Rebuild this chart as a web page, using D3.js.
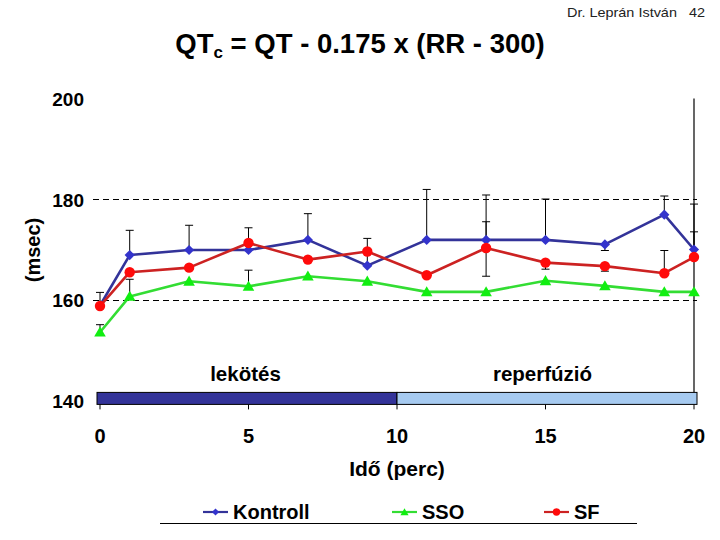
<!DOCTYPE html>
<html><head><meta charset="utf-8">
<script src="https://cdn.jsdelivr.net/npm/d3@7"></script>
<style>body{margin:0;background:#fff}svg{display:block}</style>
</head><body><svg id="c" width="720" height="540"></svg>
<script>
// ---- data ----
const times = [0, 1, 3, 5, 7, 9, 11, 13, 15, 17, 19, 20];
const kontroll = [159.0, 169.0, 170.0, 170.0, 172.0, 166.9, 172.0, 172.0, 172.0, 171.1, 177.0, 170.1];
const sso      = [153.7, 160.8, 163.8, 162.8, 164.8, 163.8, 161.7, 161.7, 163.9, 162.9, 161.7, 161.7];
const sf       = [158.9, 165.6, 166.5, 171.4, 168.1, 169.7, 165.0, 170.4, 167.5, 166.8, 165.4, 168.6];
// error bar ends (null = no bar visible)
const kontrollErrHi = [161.6, 173.9, 174.9, null, 177.2, 172.3, 182.0, 180.9, 180.1, null, 180.7, 179.1];
const kontrollErrLo = [null, null, null, null, null, null, null, null, null, 169.9, null, null];
const ssoErrHi      = [155.2, 164.2, null, 166.0, null, null, null, null, null, null, null, null];
const sfErrHi       = [null, null, null, 174.4, null, null, null, 175.6, null, null, 169.9, 173.6];
const sfErrLo       = [null, null, null, null, null, null, null, 164.8, 166.2, 165.8, null, null];
const seriesNames = ["Kontroll", "SSO", "SF"];
const yTicks = [140, 160, 180, 200];
const gridValues = [160, 180];
const xTicks = [0, 5, 10, 15, 20];
const phaseLabels = ["lekötés", "reperfúzió"];
const phaseFrom = [0, 10];
const phaseTo = [10, 20];
const titleMain = "QT";
const titleSub = "c";
const titleRest = " = QT - 0.175 x (RR - 300)";
const author = "Dr. Leprán István   42";
const yTitle = "(msec)";
const xTitle = "Idő (perc)";

// ---- chart ----
const svg = d3.select("#c");
const FONT = "Arial, 'Liberation Sans', Helvetica, sans-serif";
const x = d3.scaleLinear().domain([0, 20]).range([100, 694]);
const y = d3.scaleLinear().domain([140, 200]).range([401.4, 98.6]);

const series = [
  {name: seriesNames[0], vals: kontroll, hi: kontrollErrHi, lo: kontrollErrLo, line: "#333399", fill: "#3333cc", sym: "diamond"},
  {name: seriesNames[1], vals: sso, hi: ssoErrHi, lo: null, line: "#33dd33", fill: "#11ee11", sym: "triangle"},
  {name: seriesNames[2], vals: sf, hi: sfErrHi, lo: sfErrLo, line: "#cc2222", fill: "#ff0a0a", sym: "circle"}
];

// author & title
svg.append("text").attr("x", 705).attr("y", 17).attr("text-anchor", "end")
  .attr("font-family", FONT).attr("font-size", 13.5).attr("fill", "#222")
  .style("white-space", "pre").attr("textLength", 138).attr("lengthAdjust", "spacingAndGlyphs").text(author);
const t = svg.append("text").attr("x", 360).attr("y", 53).attr("text-anchor", "middle")
  .attr("font-family", FONT).attr("font-size", 27.5).attr("font-weight", "bold").attr("fill", "#000");
t.append("tspan").text(titleMain);
t.append("tspan").attr("font-size", 17).attr("dy", 5).text(titleSub);
t.append("tspan").attr("dy", -5).text(titleRest);

// gridlines
svg.append("g").selectAll("line").data(gridValues).join("line")
  .attr("x1", 93).attr("x2", 697).attr("y1", d => y(d)).attr("y2", d => y(d))
  .attr("stroke", "#000").attr("stroke-width", 1).attr("stroke-dasharray", "6,4")
  .attr("shape-rendering", "crispEdges");

// y tick labels
svg.append("g").selectAll("text").data(yTicks).join("text")
  .attr("x", 84).attr("y", d => y(d) + 7).attr("text-anchor", "end")
  .attr("font-family", FONT).attr("font-size", 19).attr("font-weight", "bold").text(d => d);

// y title
svg.append("text").attr("transform", "translate(40,250) rotate(-90)").attr("text-anchor", "middle")
  .attr("font-family", FONT).attr("font-size", 20).attr("font-weight", "bold").text(yTitle);

// right vertical line
const barTop = y(140) - 9, barH = 12;
svg.append("line").attr("x1", x(20)).attr("x2", x(20)).attr("y1", y(200)).attr("y2", barTop)
  .attr("stroke", "#000").attr("stroke-width", 1.2);

// phase bar
const phaseColors = ["#333399", "#a6caf0"];
svg.append("g").selectAll("rect").data(phaseLabels).join("rect")
  .attr("x", (d, i) => x(phaseFrom[i]) - (i === 0 ? 3 : 0))
  .attr("width", (d, i) => x(phaseTo[i]) - x(phaseFrom[i]) + 3)
  .attr("y", barTop).attr("height", barH)
  .attr("fill", (d, i) => phaseColors[i]).attr("stroke", "#000").attr("stroke-width", 1);
svg.append("g").selectAll("text").data(phaseLabels).join("text")
  .attr("x", (d, i) => (x(phaseFrom[i]) + x(phaseTo[i])) / 2 - 3).attr("y", 381)
  .attr("text-anchor", "middle").attr("font-family", FONT).attr("font-size", 20.5)
  .attr("font-weight", "bold").text(d => d);

// x ticks & labels
svg.append("g").selectAll("line").data(xTicks).join("line")
  .attr("x1", d => x(d)).attr("x2", d => x(d)).attr("y1", barTop + barH).attr("y2", barTop + barH + 5)
  .attr("stroke", "#000");
svg.append("g").selectAll("text").data(xTicks).join("text")
  .attr("x", d => x(d)).attr("y", 443).attr("text-anchor", "middle")
  .attr("font-family", FONT).attr("font-size", 20).attr("font-weight", "bold").text(d => d);
svg.append("text").attr("x", 397).attr("y", 476).attr("text-anchor", "middle")
  .attr("font-family", FONT).attr("font-size", 21).attr("font-weight", "bold").text(xTitle);

// error bars
const eb = svg.append("g").attr("stroke", "#000").attr("stroke-width", 1);
series.forEach(s => {
  [s.hi, s.lo].forEach(arr => {
    if (!arr) return;
    arr.forEach((e, i) => {
      if (e == null) return;
      const cx = x(times[i]);
      eb.append("line").attr("x1", cx).attr("x2", cx).attr("y1", y(s.vals[i])).attr("y2", y(e));
      eb.append("line").attr("x1", cx - 4).attr("x2", cx + 4).attr("y1", y(e)).attr("y2", y(e));
    });
  });
});

function symPath(kind, scale) {
  if (kind === "diamond") return d3.symbol(d3.symbolSquare, 52 * scale)();
  if (kind === "triangle") return d3.symbol(d3.symbolTriangle, 58 * scale)();
  return d3.symbol(d3.symbolCircle, 85 * scale)();
}
function symTransform(kind, px, py) {
  return kind === "diamond" ? `translate(${px},${py}) rotate(45)` :
         kind === "triangle" ? `translate(${px},${py + 1})` : `translate(${px},${py})`;
}

// series lines and markers
const line = d3.line().x((d, i) => x(times[i])).y(d => y(d));
series.forEach(s => {
  svg.append("path").attr("d", line(s.vals)).attr("fill", "none")
    .attr("stroke", s.line).attr("stroke-width", 2.6).attr("stroke-linejoin", "round");
  svg.append("g").selectAll("path").data(s.vals).join("path")
    .attr("d", symPath(s.sym, 1))
    .attr("transform", (d, i) => symTransform(s.sym, x(times[i]), y(d)))
    .attr("fill", s.fill);
});

// legend
const legX = [203, 392, 544];
const lg = svg.append("g");
series.forEach((s, i) => {
  lg.append("line").attr("x1", legX[i]).attr("x2", legX[i] + 25).attr("y1", 512).attr("y2", 512)
    .attr("stroke", s.line).attr("stroke-width", 2.2);
  lg.append("path").attr("d", symPath(s.sym, 0.5)).attr("transform", symTransform(s.sym, legX[i] + 12.5, 512))
    .attr("fill", s.fill);
  lg.append("text").attr("x", legX[i] + 30).attr("y", 519)
    .attr("font-family", FONT).attr("font-size", 20).attr("font-weight", "bold").text(s.name);
});
lg.append("line").attr("x1", 160).attr("x2", 637).attr("y1", 523.5).attr("y2", 523.5)
  .attr("stroke", "#000").attr("stroke-width", 1);
</script></body></html>
